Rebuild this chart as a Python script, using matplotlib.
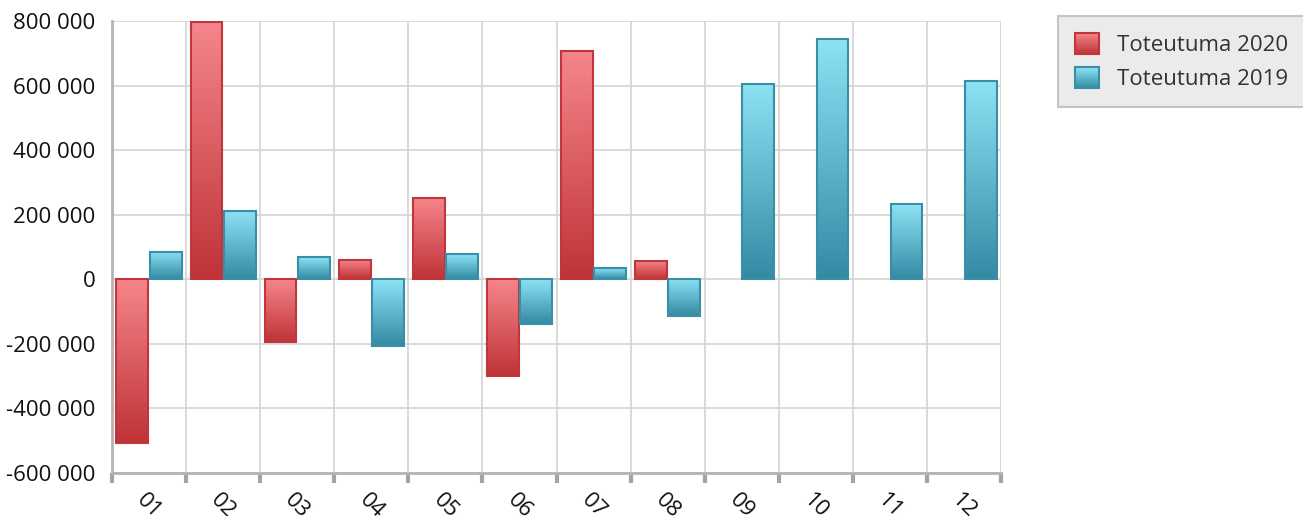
import matplotlib
matplotlib.use("Agg")
import matplotlib.pyplot as plt
import numpy as np
from matplotlib.colors import LinearSegmentedColormap
from matplotlib.patches import Patch, Rectangle
from matplotlib.legend_handler import HandlerBase
from matplotlib.ticker import FixedLocator, FuncFormatter

months = ["01", "02", "03", "04", "05", "06", "07", "08", "09", "10", "11", "12"]
toteutuma_2020 = [-508000, 796000, -195000, 59000, 251000, -300000, 706000, 56000, None, None, None, None]
toteutuma_2019 = [84000, 210000, 68000, -207000, 77000, -139000, 34000, -115000, 604000, 743000, 232000, 613000]
series_names = ["Toteutuma 2020", "Toteutuma 2019"]

plt.rcParams['font.family'] = ['Open Sans', 'DejaVu Sans']

red_cmap = LinearSegmentedColormap.from_list("r", ["#bf3337", "#f5868b"])
blue_cmap = LinearSegmentedColormap.from_list("b", ["#338aa3", "#8de2f4"])
red_edge = "#c0363b"
blue_edge = "#3a8fa8"

fig = plt.figure(figsize=(13.03, 5.16), dpi=100)
ax = fig.add_axes([112/1303, 43/516, (1001-112)/1303, (473-21)/516])

x = np.arange(len(months))
w = 0.43
off = 0.225

grad = np.linspace(0, 1, 256).reshape(-1, 1)

def draw(vals, xpos, cmap, edge):
    for xi, v in zip(xpos, vals):
        if v is None:
            continue
        b = ax.bar(xi, v, width=w, facecolor="none", edgecolor=edge, linewidth=1.5, zorder=3)[0]
        x0, y0 = b.get_x(), b.get_y()
        x1, y1 = x0 + b.get_width(), y0 + b.get_height()
        lo, hi = min(y0, y1), max(y0, y1)
        ax.imshow(grad, cmap=cmap, origin="lower", extent=[x0, x1, lo, hi],
                  aspect="auto", zorder=2, interpolation="bilinear")

draw(toteutuma_2020, x - off, red_cmap, red_edge)
draw(toteutuma_2019, x + off, blue_cmap, blue_edge)

ax.set_xlim(-0.5, len(months) - 0.5)
ax.set_ylim(-600000, 800000)
ax.set_aspect("auto")

ax.yaxis.set_major_locator(FixedLocator(np.arange(-600000, 800001, 200000)))
ax.yaxis.set_major_formatter(FuncFormatter(lambda v, p: f"{int(v):,}".replace(",", " ")))
ax.tick_params(axis="y", length=0, labelsize=16, pad=12, labelcolor="#111111")

ax.set_xticks(x)
ax.set_xticklabels(months, rotation=-45, ha="center", va="top", fontsize=16)
ax.tick_params(axis="x", which="major", length=0, pad=12, labelcolor="#111111")
ax.set_xticks(np.arange(-0.5, len(months)), minor=True)
ax.tick_params(axis="x", which="minor", length=7, width=3, color="#a0a4a8", direction="out")

ax.grid(True, axis="y", which="major", color="#d4d4d4", linewidth=1.2, zorder=0)
ax.grid(True, axis="x", which="minor", color="#d4d4d4", linewidth=1.2, zorder=0)
ax.grid(False, axis="x", which="major")
ax.set_axisbelow(True)

for s in ["top", "right"]:
    ax.spines[s].set_visible(False)
ax.spines["left"].set_color("#b4b4b4")
ax.spines["left"].set_linewidth(2)
ax.spines["bottom"].set_color("#b4b4b4")
ax.spines["bottom"].set_linewidth(2)


class GradientHandler(HandlerBase):
    def __init__(self, cmap, edge):
        super().__init__()
        self.cmap = cmap
        self.edge = edge

    def create_artists(self, legend, orig_handle, xdescent, ydescent, width, height, fontsize, trans):
        arts = []
        n = 30
        for i in range(n):
            r = Rectangle((-xdescent, -ydescent + height * i / n), width, height / n + 0.3,
                          facecolor=self.cmap(i / (n - 1)), edgecolor="none", transform=trans)
            arts.append(r)
        arts.append(Rectangle((-xdescent, -ydescent), width, height, facecolor="none",
                              edgecolor=self.edge, linewidth=1.5, transform=trans))
        return arts


h_red = Patch(facecolor="#e0575c", edgecolor=red_edge)
h_blue = Patch(facecolor="#5cb6cf", edgecolor=blue_edge)
leg = fig.legend([h_red, h_blue], series_names, loc="upper left", bbox_to_anchor=(1058/1303, 1 - 16/516),
                 fontsize=16, frameon=True, fancybox=False, handlelength=1.1, handleheight=1.1,
                 borderpad=0.75, labelspacing=0.5, handletextpad=0.8, borderaxespad=0,
                 handler_map={h_red: GradientHandler(red_cmap, red_edge),
                              h_blue: GradientHandler(blue_cmap, blue_edge)})
leg.get_frame().set_facecolor("#e6e6e6")
leg.get_frame().set_edgecolor("#b8b8b8")
leg.get_frame().set_linewidth(1.5)
for t in leg.get_texts():
    t.set_color("#333333")

fig.savefig("out.png", dpi=100)
